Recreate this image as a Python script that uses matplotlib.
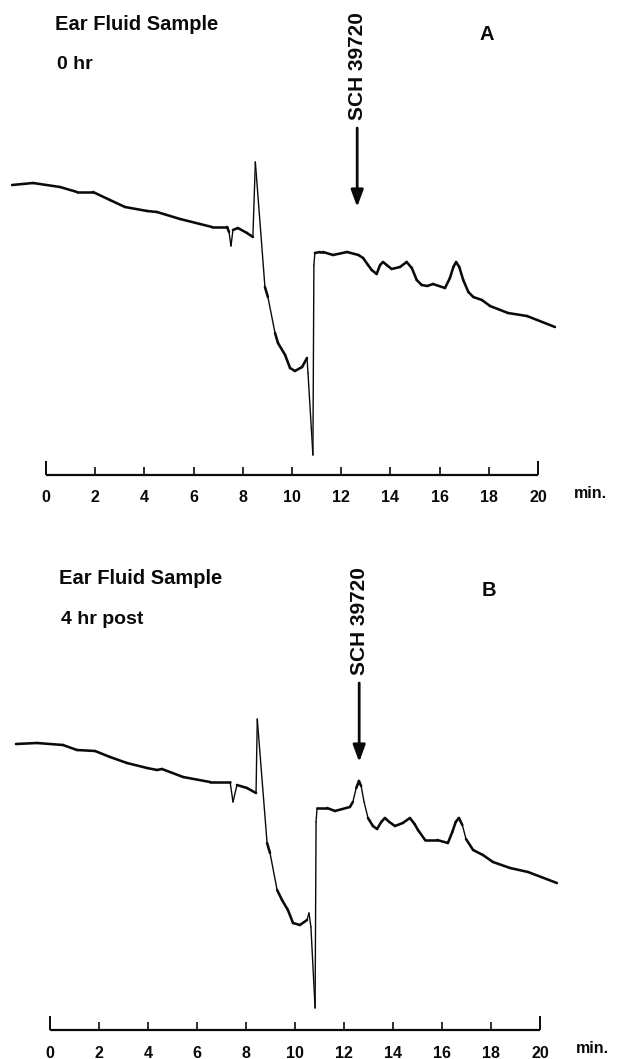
import numpy as np
import matplotlib
matplotlib.use("Agg")
import matplotlib.pyplot as plt
from matplotlib.collections import LineCollection

# ---------------------------------------------------------------------------
# Chromatogram traces (retention time in min, detector response in a.u.)
# ---------------------------------------------------------------------------
time_a = [-1.38, -0.53, 0.57, 1.26, 1.91, 2.60, 3.21, 4.11, 4.51, 5.45, 6.26,
          6.75, 7.36, 7.44, 7.52, 7.60, 7.80, 8.17, 8.41, 8.51, 8.90, 9.02,
          9.31, 9.43, 9.72, 9.92, 10.12, 10.41, 10.61, 10.65, 10.85, 10.89,
          10.93, 11.14, 11.26, 11.67, 12.24, 12.70, 12.89, 13.09, 13.24, 13.44,
          13.58, 13.70, 13.85, 14.05, 14.39, 14.66, 14.87, 15.07, 15.27, 15.50,
          15.73, 16.22, 16.42, 16.56, 16.67, 16.80, 16.96, 17.17, 17.37, 17.72,
          18.05, 18.78, 19.55, 20.69]
resp_a = [28.8, 29.0, 28.6, 28.1, 28.1, 27.3, 26.6, 26.2, 26.1, 25.4, 24.9,
          24.6, 24.6, 24.1, 22.7, 24.3, 24.5, 24.0, 23.6, 31.1, 18.6, 17.6,
          14.0, 13.0, 11.8, 10.5, 10.2, 10.6, 11.5, 10.0, 1.8, 20.8,
          22.0, 22.1, 22.1, 21.8, 22.1, 21.8, 21.5, 20.8, 20.3, 19.9,
          20.8, 21.1, 20.8, 20.4, 20.6, 21.1, 20.5, 19.3, 18.8, 18.7,
          18.9, 18.5, 19.5, 20.6, 21.1, 20.6, 19.3, 18.1, 17.6, 17.3,
          16.7, 16.0, 15.7, 14.6]

time_b = [-1.39, -0.53, 0.53, 1.10, 1.84, 2.45, 3.14, 3.96, 4.37, 4.57, 5.43,
          6.53, 7.35, 7.47, 7.63, 8.04, 8.41, 8.46, 8.86, 8.98, 9.27, 9.47,
          9.71, 9.92, 10.20, 10.49, 10.57, 10.65, 10.82, 10.86, 10.90, 11.31,
          11.63, 12.24, 12.36, 12.50, 12.61, 12.70, 12.82, 12.98, 13.18, 13.35,
          13.52, 13.67, 13.85, 14.08, 14.40, 14.69, 14.88, 15.02, 15.31, 15.80,
          16.24, 16.42, 16.56, 16.69, 16.83, 16.98, 17.27, 17.67, 18.08, 18.78,
          19.51, 20.69]
resp_b = [28.4, 28.5, 28.3, 27.8, 27.7, 27.1, 26.5, 26.0, 25.8, 25.9, 25.1,
          24.6, 24.6, 22.6, 24.3, 24.0, 23.5, 30.9, 18.5, 17.5, 13.8, 12.8,
          11.8, 10.5, 10.3, 10.8, 11.5, 10.1, 2.0, 20.6, 22.0, 22.0,
          21.7, 22.1, 22.6, 24.0, 24.7, 24.2, 22.6, 21.0, 20.2, 19.9,
          20.6, 21.0, 20.6, 20.2, 20.5, 21.0, 20.4, 19.8, 18.8, 18.8,
          18.5, 19.6, 20.6, 21.0, 20.3, 18.9, 17.8, 17.3, 16.6, 16.0,
          15.6, 14.5]

sample_labels = ["0 hr", "4 hr post"]
panel_letters = ["A", "B"]
compound = "SCH 39720"
compound_rt = [12.65, 12.62]

time_ticks = [0, 2, 4, 6, 8, 10, 12, 14, 16, 18, 20]
time_unit = "min."

# ---------------------------------------------------------------------------
W, H, DPI = 618, 1059, 100
fig = plt.figure(figsize=(W / DPI, H / DPI), dpi=DPI)
fig.patch.set_facecolor("white")

FONT = ["Liberation Sans", "DejaVu Sans"]
INK = "#0a0a0a"

# per panel: pixel position of the scale-bar origin, px per minute, px per unit
panels = [
    dict(px0=46, py0=473, sx=24.6, sy=10.0, top=0, bottom=530),
    dict(px0=50, py0=1028, sx=24.5, sy=10.0, top=530, bottom=1059),
]


def draw_trace(ax, t, r, sx, sy):
    t = np.asarray(t, float)
    r = np.asarray(r, float)
    pts = np.column_stack([t, r])
    segs = np.stack([pts[:-1], pts[1:]], axis=1)
    dx = np.abs(np.diff(t)) * sx
    dy = np.abs(np.diff(r)) * sy
    steep = dy > 3.5 * np.maximum(dx, 1e-6)
    widths = np.where(steep, 1.0, 1.85)
    lc = LineCollection(segs, colors=INK, linewidths=widths,
                        capstyle="round", joinstyle="round")
    ax.add_collection(lc)


for i, p in enumerate(panels):
    ph = p["bottom"] - p["top"]
    ax = fig.add_axes([0, 1 - p["bottom"] / H, 1, ph / H])
    ax.set_xlim(-p["px0"] / p["sx"], (W - p["px0"]) / p["sx"])
    ax.set_ylim((p["py0"] - p["bottom"]) / p["sy"], (p["py0"] - p["top"]) / p["sy"])
    ax.axis("off")

    t = time_a if i == 0 else time_b
    r = resp_a if i == 0 else resp_b
    draw_trace(ax, t, r, p["sx"], p["sy"])

    # time scale bar
    base = -0.2
    ax.plot([time_ticks[0], time_ticks[-1]], [base, base], color=INK, lw=1.6,
            solid_capstyle="butt")
    for k, tk in enumerate(time_ticks):
        end = k in (0, len(time_ticks) - 1)
        ax.plot([tk, tk], [base, base + (1.45 if end else 0.8)], color=INK,
                lw=1.4 if end else 1.2, solid_capstyle="butt")
        ax.text(tk, -2.5, str(tk), ha="center", va="center", fontsize=11.5,
                fontweight="bold", family=FONT, color=INK)
    ax.text(21.45, -2.05, time_unit, ha="left", va="center", fontsize=11.5,
            fontweight="bold", family=FONT, color=INK)

    # header text
    ax.text(0.36, 44.9, "Ear Fluid Sample", ha="left", va="center",
            fontsize=14.5, fontweight="bold", family=FONT, color=INK)
    ax.text(0.45, 40.85, sample_labels[i], ha="left", va="center",
            fontsize=14, fontweight="bold", family=FONT, color=INK)
    ax.text(17.9, 43.8, panel_letters[i], ha="center", va="center",
            fontsize=14.5, fontweight="bold", family=FONT, color=INK)

    # compound marker
    rt = compound_rt[i]
    ax.text(rt, 40.7, compound, ha="center", va="center", rotation=90,
            fontsize=15, fontweight="bold", family=FONT, color=INK)
    ax.annotate("", xy=(rt, 26.6), xytext=(rt, 34.5),
                arrowprops=dict(arrowstyle="-|>,head_length=0.6,head_width=0.22",
                                color=INK, lw=2.0, shrinkA=0, shrinkB=0,
                                mutation_scale=17))

fig.savefig("out.png", dpi=DPI, facecolor="white")
